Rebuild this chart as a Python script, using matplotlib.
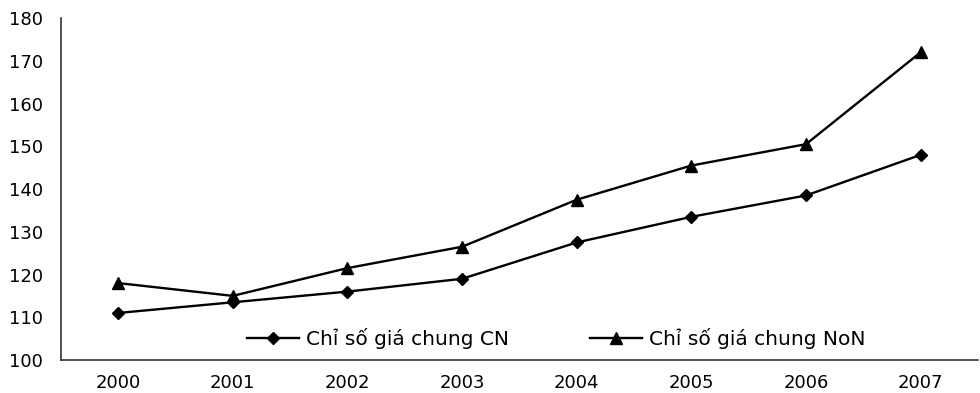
import matplotlib
matplotlib.use('Agg')
import matplotlib.pyplot as plt
import numpy as np

plt.rcParams['font.family'] = ['DejaVu Sans']

years = ['2000', '2001', '2002', '2003', '2004', '2005', '2006', '2007']
cn_index = [111, 113.5, 116, 119, 127.5, 133.5, 138.5, 148]
non_index = [118, 115, 121.5, 126.5, 137.5, 145.5, 150.5, 172]
labels = ['Chỉ số giá chung CN', 'Chỉ số giá chung NoN']

fig = plt.figure(figsize=(9.8, 3.93), dpi=100)
ax = fig.add_axes([0.062, 0.084, 0.936, 0.870])

x = np.arange(len(years))
ax.plot(x, cn_index, color='black', lw=1.7, marker='D', ms=6.5, label=labels[0])
ax.plot(x, non_index, color='black', lw=1.7, marker='^', ms=9, label=labels[1])

ax.set_xlim(-0.5, len(years) - 0.5)
ax.set_ylim(100, 180)
ax.set_yticks(np.arange(100, 181, 10))
ax.set_xticks(x)
ax.set_xticklabels(years)
ax.tick_params(length=0, labelsize=13)
ax.tick_params(axis='x', pad=10)
ax.tick_params(axis='y', pad=13)

for s in ['top', 'right']:
    ax.spines[s].set_visible(False)
for s in ['left', 'bottom']:
    ax.spines[s].set_color('#333333')
    ax.spines[s].set_linewidth(1.2)

ax.legend(loc='lower center', bbox_to_anchor=(0.54, -0.02), ncol=2, frameon=False,
          fontsize=14.5, handlelength=2.6, columnspacing=4.0, handletextpad=0.35)

fig.savefig('out.png', dpi=100)
